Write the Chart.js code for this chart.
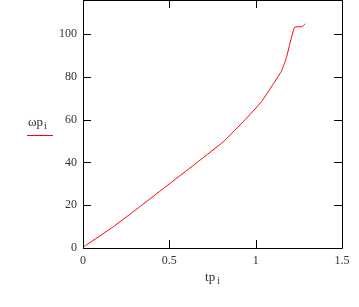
<!DOCTYPE html>
<html><head><meta charset="utf-8">
<script src="https://cdn.jsdelivr.net/npm/chart.js@4/dist/chart.umd.min.js"></script>
<style>html,body{margin:0;padding:0;background:#fff}#w{width:359px;height:307px}</style>
</head><body><div id="w"><canvas id="c"></canvas></div>
<script>
const tpValues = [0, 0.014, 0.178, 0.332, 0.5, 0.67, 0.815, 0.94, 1.033, 1.1, 1.149, 1.178, 1.197, 1.212, 1.226, 1.265, 1.278, 1.288];
const omegaValues = [0.5, 1.1, 10.1, 19.5, 30, 40.6, 49.9, 60.1, 68.4, 76.5, 82.7, 89, 95.2, 99.9, 103.3, 103.5, 104.1, 104.9];
const xTicks = [0, 0.5, 1, 1.5];
const yTicks = [0, 20, 40, 60, 80, 100];
const xLabel = {main: 'tp', sub: 'i'};
const yLabel = {main: 'ωp', sub: 'i'};

const points = tpValues.map((x, i) => ({x: x, y: omegaValues[i]}));
const tickFont = {family: 'Liberation Serif', size: 12};

const framePlugin = {
  id: 'frame',
  afterDraw(chart) {
    const ctx = chart.ctx, a = chart.chartArea;
    const xs = chart.scales.x, ys = chart.scales.y;
    ctx.save();
    ctx.strokeStyle = '#000';
    ctx.lineWidth = 1;
    ctx.beginPath();
    ctx.rect(Math.round(a.left) + 0.5, Math.round(a.top) + 0.5, Math.round(a.right - a.left), Math.round(a.bottom - a.top));
    ctx.stroke();
    const L = 8;
    ctx.beginPath();
    xTicks.forEach(v => {
      const px = Math.round(xs.getPixelForValue(v)) + 0.5;
      ctx.moveTo(px, a.bottom); ctx.lineTo(px, a.bottom - L);
      ctx.moveTo(px, a.top); ctx.lineTo(px, a.top + L);
    });
    yTicks.forEach(v => {
      const py = Math.round(ys.getPixelForValue(v)) + 0.5;
      ctx.moveTo(a.left, py); ctx.lineTo(a.left + L, py);
      ctx.moveTo(a.right, py); ctx.lineTo(a.right - L, py);
    });
    ctx.stroke();
    ctx.fillStyle = '#333';
    ctx.textBaseline = 'alphabetic';
    ctx.font = '13px "Liberation Serif"';
    const xm = ctx.measureText(xLabel.main).width;
    ctx.font = '10px "Liberation Serif"';
    const xsub = ctx.measureText(xLabel.sub).width;
    const xc = (a.left + a.right) / 2;
    let sx = xc - (xm + xsub + 2) / 2;
    ctx.font = '13px "Liberation Serif"';
    ctx.fillText(xLabel.main, sx, 281);
    ctx.font = '10px "Liberation Serif"';
    ctx.fillText(xLabel.sub, sx + xm + 2, 284);
    ctx.font = '13px "Liberation Serif"';
    const ym = ctx.measureText(yLabel.main).width;
    ctx.fillText(yLabel.main, 28, 126);
    ctx.font = '10px "Liberation Serif"';
    ctx.fillText(yLabel.sub, 28 + ym + 1, 129);
    ctx.strokeStyle = '#ff0000';
    ctx.beginPath();
    ctx.moveTo(27, 135.5); ctx.lineTo(53, 135.5);
    ctx.stroke();
    ctx.restore();
  }
};

new Chart(document.getElementById('c'), {
  type: 'scatter',
  data: {datasets: [{
    data: points,
    showLine: true,
    borderColor: '#ff0000',
    borderWidth: 1,
    pointRadius: 0,
    fill: false,
    tension: 0.15
  }]},
  options: {
    responsive: true,
    maintainAspectRatio: false,
    animation: false,
    layout: {padding: {left: 0, right: 17, top: 0, bottom: 0}},
    plugins: {legend: {display: false}, tooltip: {enabled: false}},
    scales: {
      x: {
        type: 'linear', min: 0, max: 1.5,
        grid: {display: false, drawTicks: false},
        border: {display: false},
        afterBuildTicks: s => { s.ticks = xTicks.map(v => ({value: v})); },
        afterFit: s => { s.height = 59; s.paddingLeft = 0; s.paddingRight = 0; },
        ticks: {font: tickFont, color: '#333', padding: 6, maxRotation: 0, autoSkip: false,
                callback: v => String(v)}
      },
      y: {
        type: 'linear', min: 0, max: 116,
        grid: {display: false, drawTicks: false},
        border: {display: false},
        afterBuildTicks: s => { s.ticks = yTicks.map(v => ({value: v})); },
        afterFit: s => { s.width = 83; s.paddingTop = 0; s.paddingBottom = 0; },
        ticks: {font: tickFont, color: '#333', padding: 6, autoSkip: false,
                callback: v => String(v)}
      }
    }
  },
  plugins: [framePlugin]
});
</script>
</body></html>
